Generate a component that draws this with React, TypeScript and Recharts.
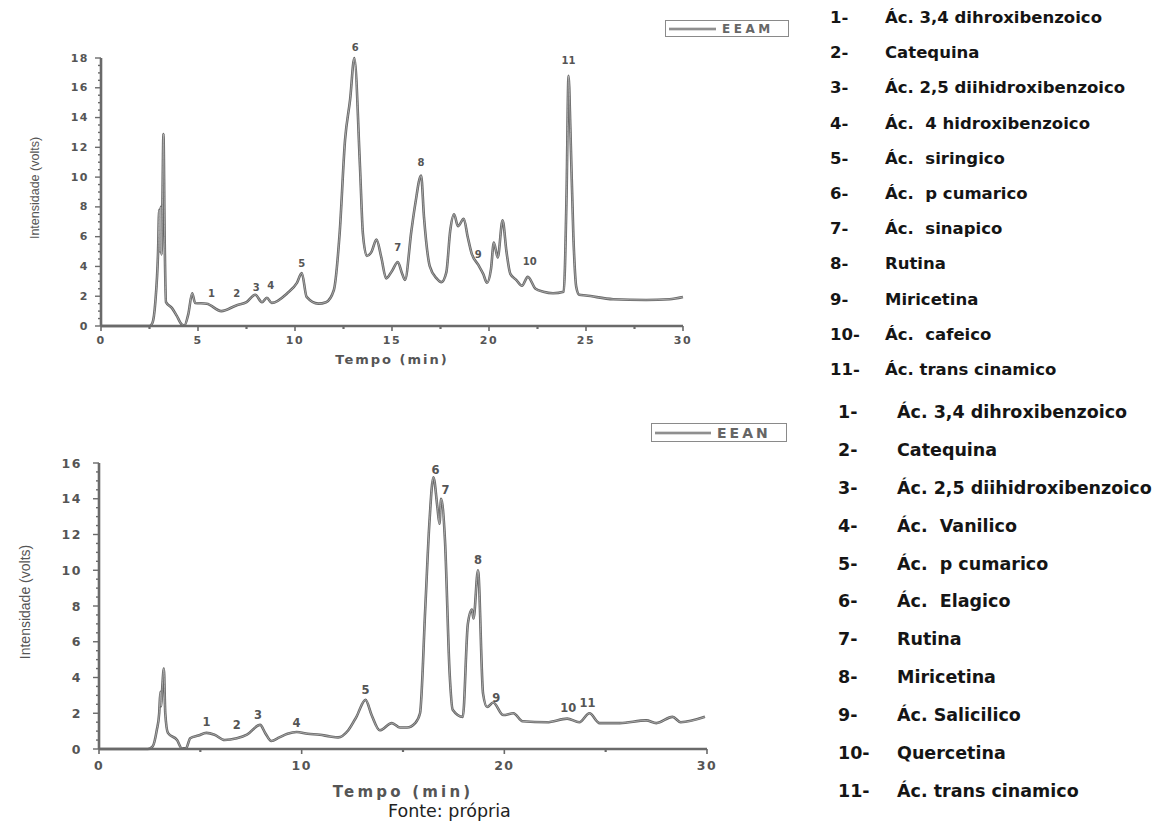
import React from 'react';
import { ComposedChart, Line, XAxis, YAxis, ReferenceDot, Legend } from 'recharts';

// EEAM chromatogram: [retention time (min), signal (volts)]
const eeamTrace: [number, number][] = [
  [0, 0], [2.5, 0], [2.65, 0.2], [2.8, 1.6], [2.94, 4.9], [3.0, 7.8], [3.04, 5.0], [3.08, 8.0],
  [3.12, 4.8], [3.16, 7.5], [3.22, 12.9], [3.28, 6.0], [3.35, 1.6], [3.66, 1.2], [3.9, 0.7],
  [4.17, 0.1], [4.3, 0.05], [4.5, 0.8], [4.7, 2.2], [4.85, 1.55], [5.45, 1.5], [6.2, 1.0],
  [7.0, 1.4], [7.5, 1.6], [7.95, 2.1], [8.3, 1.6], [8.55, 1.9], [8.8, 1.55], [9.6, 2.2],
  [10.1, 2.9], [10.35, 3.55], [10.6, 1.95], [11.2, 1.5], [11.6, 1.6], [12.0, 2.4], [12.3, 6.2],
  [12.58, 12.5], [12.84, 15.2], [13.06, 18.0], [13.35, 10.7], [13.5, 6.2], [13.7, 4.7],
  [13.95, 5.0], [14.2, 5.8], [14.45, 4.6], [14.7, 3.2], [15.0, 3.7], [15.3, 4.3], [15.5, 3.6],
  [15.67, 3.1], [16.0, 6.4], [16.2, 8.2], [16.5, 10.1], [16.65, 7.3], [16.95, 4.0], [17.3, 3.2],
  [17.55, 2.95], [17.8, 3.6], [18.0, 6.4], [18.2, 7.5], [18.4, 6.7], [18.7, 7.2], [18.9, 6.0],
  [19.1, 4.9], [19.45, 4.1], [19.7, 3.5], [19.9, 2.9], [20.1, 3.8], [20.25, 5.6], [20.45, 4.6],
  [20.7, 7.1], [20.9, 5.0], [21.1, 3.5], [21.4, 3.1], [21.7, 2.7], [22.0, 3.3], [22.4, 2.5],
  [22.8, 2.3], [23.3, 2.2], [23.85, 2.3], [24.0, 9.0], [24.1, 16.8], [24.2, 13.0], [24.35, 6.0],
  [24.5, 2.6], [24.65, 2.1], [25.0, 2.05], [26.4, 1.8], [28.1, 1.75], [29.3, 1.8], [30.0, 1.95],
];

// EEAN chromatogram: [retention time (min), signal (volts)]
const eeanTrace: [number, number][] = [
  [0, 0], [2.4, 0], [2.65, 0.15], [2.85, 1.05], [2.97, 2.0], [3.03, 3.2], [3.07, 2.4], [3.12, 3.4],
  [3.2, 4.5], [3.27, 2.0], [3.4, 0.9], [3.85, 0.5], [4.1, 0.02], [4.3, 0.05], [4.5, 0.6],
  [4.9, 0.75], [5.3, 0.9], [5.7, 0.8], [6.2, 0.5], [6.8, 0.6], [7.3, 0.8], [7.95, 1.35],
  [8.2, 0.9], [8.5, 0.45], [8.9, 0.65], [9.3, 0.85], [9.75, 0.95], [10.3, 0.85], [10.9, 0.8],
  [11.4, 0.7], [11.8, 0.65], [12.3, 1.05], [12.7, 1.8], [13.15, 2.75], [13.45, 1.9], [13.85, 1.05],
  [14.45, 1.45], [14.85, 1.2], [15.2, 1.2], [15.6, 1.45], [15.84, 2.0], [16.1, 7.9], [16.3, 12.6],
  [16.5, 15.2], [16.7, 13.5], [16.8, 12.6], [16.88, 14.0], [17.07, 11.7], [17.3, 4.25],
  [17.45, 2.2], [17.95, 1.8], [18.2, 7.0], [18.4, 7.8], [18.48, 7.3], [18.7, 10.0], [18.95, 3.1],
  [19.15, 2.35], [19.45, 2.6], [19.95, 1.9], [20.45, 2.0], [20.9, 1.55], [22.1, 1.5], [23.1, 1.7],
  [23.7, 1.5], [24.2, 2.0], [24.7, 1.45], [25.7, 1.45], [27.0, 1.6], [27.5, 1.45], [28.3, 1.8],
  [28.7, 1.5], [29.9, 1.8],
];

// Peak numbers: [time, level, tag]
const eeamPeaks: [number, number, string][] = [
  [5.7, 2.2, '1'], [7.0, 2.2, '2'], [8.0, 2.6, '3'], [8.75, 2.75, '4'], [10.35, 4.2, '5'],
  [13.1, 18.7, '6'], [15.3, 5.3, '7'], [16.5, 11.0, '8'], [19.45, 4.8, '9'], [22.1, 4.3, '10'],
  [24.1, 17.85, '11'],
];
const eeanPeaks: [number, number, string][] = [
  [5.3, 1.5, '1'], [6.8, 1.35, '2'], [7.85, 1.9, '3'], [9.75, 1.45, '4'], [13.15, 3.3, '5'],
  [16.6, 15.6, '6'], [17.1, 14.5, '7'], [18.7, 10.6, '8'], [19.6, 2.85, '9'], [23.15, 2.3, '10'],
  [24.1, 2.55, '11'],
];

const eeamCompounds = [
  'Ác. 3,4 dihroxibenzoico', 'Catequina', 'Ác. 2,5 diihidroxibenzoico', 'Ác.  4 hidroxibenzoico',
  'Ác.  siringico', 'Ác.  p cumarico', 'Ác.  sinapico', 'Rutina', 'Miricetina', 'Ác.  cafeico',
  'Ác. trans cinamico',
];
const eeanCompounds = [
  'Ác. 3,4 dihroxibenzoico', 'Catequina', 'Ác. 2,5 diihidroxibenzoico', 'Ác.  Vanilico',
  'Ác.  p cumarico', 'Ác.  Elagico', 'Rutina', 'Miricetina', 'Ác. Salicilico', 'Quercetina',
  'Ác. trans cinamico',
];

const eeamYTicks = Array.from({ length: 37 }, (_, i) => i * 0.5);
const eeanYTicks = Array.from({ length: 33 }, (_, i) => i * 0.5);
const eeamXTicks = [0, 2.5, 5, 7.5, 10, 12.5, 15, 17.5, 20, 22.5, 25, 27.5, 30];
const eeanXTicks = [0, 5, 10, 15, 20, 25, 30];

const AXIS = '#6a6a6a';
const INK = '#555';
const BOLD = '"DejaVu Sans", Verdana, sans-serif';

const makeYTick = (fontSize: number, gap: number) => (props: any) => {
  const { x, y, payload } = props;
  const major = payload.value % 2 === 0;
  return (
    <g>
      <line x1={x} x2={x - (major ? 6 : 3)} y1={y} y2={y} stroke={AXIS} strokeWidth={1.4} />
      {major && (
        <text x={x - gap} y={y} textAnchor="end" dominantBaseline="central" fontFamily={BOLD}
          fontWeight="bold" fontSize={fontSize} letterSpacing={1.5} fill={INK}>
          {payload.value}
        </text>
      )}
    </g>
  );
};

const makeXTick = (fontSize: number, gap: number, step: number) => (props: any) => {
  const { x, y, payload } = props;
  const major = payload.value % step === 0;
  return (
    <g>
      <line x1={x} x2={x} y1={y} y2={y + (major ? 5 : 3)} stroke={AXIS} strokeWidth={major ? 1.6 : 2.2} />
      {major && (
        <text x={x} y={y + gap} textAnchor="middle" dominantBaseline="central" fontFamily={BOLD}
          fontWeight="bold" fontSize={fontSize} letterSpacing={1.5} fill={INK}>
          {payload.value}
        </text>
      )}
    </g>
  );
};

const peakTag = (tag: string, fontSize: number) => (props: any) => (
  <text x={props.cx} y={props.cy} textAnchor="middle" dominantBaseline="central" fontFamily={BOLD}
    fontWeight="bold" fontSize={fontSize} fill={INK}>
    {tag}
  </text>
);

const SeriesKey = ({ name, width, height, lineWidth, fontSize, spacing }: any) => (
  <div style={{ width, height, boxSizing: 'border-box', border: '1.5px solid #8a8a8a', display: 'flex',
    alignItems: 'center', background: '#fff' }}>
    <svg width={lineWidth} height={8} style={{ marginLeft: 3 }}>
      <line x1={0} x2={lineWidth} y1={4} y2={4} stroke="#6a6a6a" strokeWidth={2.6} />
      <line x1={0} x2={lineWidth} y1={4} y2={4} stroke="#bdbdbd" strokeWidth={0.9} />
    </svg>
    <span style={{ marginLeft: 6, fontFamily: BOLD, fontWeight: 'bold', fontSize, letterSpacing: spacing,
      color: '#666' }}>{name}</span>
  </div>
);

type PanelProps = {
  trace: [number, number][];
  peaks: [number, number, string][];
  name: string;
  width: number;
  height: number;
  margin: { top: number; right: number; bottom: number; left: number };
  yMax: number;
  yTicks: number[];
  xTicks: number[];
  xStep: number;
  tickFont: number;
  yGap: number;
  xGap: number;
  titleFont: number;
  titleSpacing: number;
  titleGap: number;
  yTitleX: number;
  yTitleFont: number;
  tagFont: number;
  keyBox: any;
};

const Panel = (p: PanelProps) => {
  const rows = p.trace.map(([t, v]) => ({ t, v }));
  return (
    <ComposedChart width={p.width} height={p.height} data={rows} margin={p.margin}>
      <XAxis type="number" dataKey="t" domain={[0, 30]} ticks={p.xTicks} interval={0} tickSize={0}
        tickMargin={0} tickLine={false} height={40} axisLine={{ stroke: AXIS, strokeWidth: 2.6 }}
        tick={makeXTick(p.tickFont, p.xGap, p.xStep)}
        label={{
          content: (lp: any) => {
            const vb = lp.viewBox;
            return (
              <text x={vb.x + vb.width / 2} y={vb.y + p.titleGap} textAnchor="middle" dominantBaseline="central"
                fontFamily={BOLD} fontWeight="bold" fontSize={p.titleFont} letterSpacing={p.titleSpacing} fill={INK}>
                Tempo (min)
              </text>
            );
          },
        }}
      />
      <YAxis type="number" domain={[0, p.yMax]} ticks={p.yTicks} interval={0} tickSize={0} tickMargin={0}
        tickLine={false} width={60} axisLine={{ stroke: AXIS, strokeWidth: 2.6 }}
        tick={makeYTick(p.tickFont, p.yGap)}
        label={{
          content: (lp: any) => {
            const vb = lp.viewBox;
            const cy = vb.y + vb.height / 2 - 4;
            return (
              <text x={p.yTitleX} y={cy} transform={`rotate(-90, ${p.yTitleX}, ${cy})`} textAnchor="middle"
                dominantBaseline="central" fontFamily='"Liberation Sans", Arial, sans-serif'
                fontSize={p.yTitleFont} fill={INK}>
                Intensidade (volts)
              </text>
            );
          },
        }}
      />
      <Legend layout="horizontal" verticalAlign="middle" align="center"
        wrapperStyle={{ left: p.keyBox.left, top: p.keyBox.top, width: p.keyBox.width }}
        content={() => <SeriesKey name={p.name} {...p.keyBox} />} />
      <Line type="monotone" dataKey="v" name={p.name} stroke="#666" strokeWidth={2.6} dot={false}
        isAnimationActive={false} legendType="line" />
      <Line type="monotone" dataKey="v" stroke="#b8b8b8" strokeWidth={0.8} dot={false}
        isAnimationActive={false} legendType="none" />
      {p.peaks.map(([t, v, tag]) => (
        <ReferenceDot key={tag} x={t} y={v} r={0} ifOverflow="visible" shape={peakTag(tag, p.tagFont)} />
      ))}
    </ComposedChart>
  );
};

const CompoundList = ({ items, top, left, numberWidth, rowHeight, fontSize }: any) => (
  <div style={{ position: 'absolute', top, left, fontFamily: BOLD, fontWeight: 'bold', fontSize,
    color: '#151515' }}>
    {items.map((name: string, i: number) => (
      <div key={i} style={{ height: rowHeight, lineHeight: `${rowHeight}px`, display: 'flex', whiteSpace: 'pre' }}>
        <span style={{ width: numberWidth }}>{`${i + 1}-`}</span>
        <span>{name}</span>
      </div>
    ))}
  </div>
);

export default function App() {
  return (
    <div style={{ position: 'absolute', left: 0, top: 0, width: 1160, height: 825, background: '#fff',
      overflow: 'hidden' }}>
      <div style={{ position: 'absolute', left: 0, top: 0 }}>
        <Panel trace={eeamTrace} peaks={eeamPeaks} name="EEAM" width={800} height={380}
          margin={{ top: 58, right: 117, bottom: 14, left: 41 }} yMax={18} yTicks={eeamYTicks}
          xTicks={eeamXTicks} xStep={5} tickFont={11} yGap={12} xGap={14} titleFont={13}
          titleSpacing={2} titleGap={33} yTitleX={35} yTitleFont={12.5} tagFont={10}
          keyBox={{ left: 665, top: 20, width: 124, height: 17, lineWidth: 47, fontSize: 12, spacing: 3.5 }} />
      </div>
      <div style={{ position: 'absolute', left: 0, top: 390 }}>
        <Panel trace={eeanTrace} peaks={eeanPeaks} name="EEAN" width={800} height={435}
          margin={{ top: 73, right: 93, bottom: 36, left: 39 }} yMax={16} yTicks={eeanYTicks}
          xTicks={eeanXTicks} xStep={10} tickFont={12.5} yGap={17} xGap={16} titleFont={15}
          titleSpacing={3.2} titleGap={43} yTitleX={25} yTitleFont={14} tagFont={11.5}
          keyBox={{ left: 651, top: 33, width: 136, height: 19, lineWidth: 56, fontSize: 14, spacing: 3 }} />
      </div>
      <CompoundList items={eeamCompounds} top={0} left={830} numberWidth={55} rowHeight={35.2} fontSize={16.5} />
      <CompoundList items={eeanCompounds} top={394} left={838} numberWidth={59} rowHeight={37.9} fontSize={17.5} />
      <div style={{ position: 'absolute', left: 388, top: 801, fontFamily: '"DejaVu Sans", Verdana, sans-serif',
        fontSize: 17.5, color: '#222', whiteSpace: 'nowrap' }}>
        Fonte: própria
      </div>
    </div>
  );
}
